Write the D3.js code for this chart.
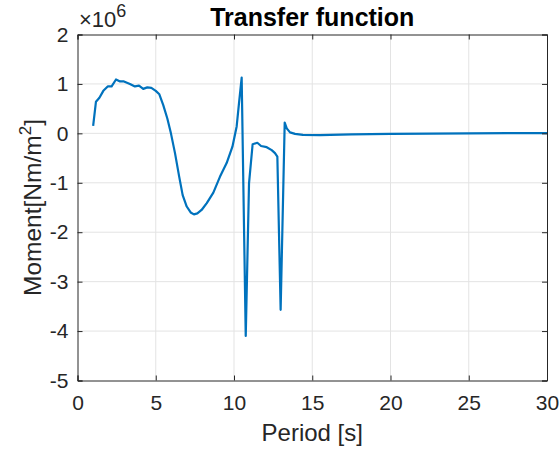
<!DOCTYPE html>
<html>
<head>
<meta charset="utf-8">
<script src="https://cdn.jsdelivr.net/npm/d3@7"></script>
<style>
  html, body { margin: 0; padding: 0; background: #fff; }
  svg { display: block; }
  text { font-family: "Liberation Sans", Arial, Helvetica, sans-serif; fill: #262626; }
</style>
</head>
<body>
<svg id="chart" width="560" height="452"></svg>
<script>
// Transfer function: moment per unit area vs. wave period
const period = [1.0, 1.18, 1.4, 1.65, 1.93, 2.18, 2.46, 2.72, 2.97, 3.35, 3.67, 3.93, 4.2, 4.46, 4.72, 5.0, 5.23, 5.48, 5.74, 5.97, 6.23, 6.5, 6.72, 6.98, 7.23, 7.44, 7.66, 7.93, 8.26, 8.68, 9.1, 9.53, 9.9, 10.17, 10.32, 10.49, 10.75, 10.96, 11.19, 11.49, 11.73, 12.09, 12.41, 12.62, 12.77, 12.98, 13.24, 13.37, 13.58, 13.9, 14.4, 15.5, 17.5, 20, 22.5, 25, 27.5, 30];
const moment = [0.15, 0.64, 0.72, 0.86, 0.95, 0.95, 1.09, 1.05, 1.05, 1.0, 0.95, 0.965, 0.9, 0.93, 0.92, 0.86, 0.79, 0.57, 0.30, 0.0, -0.40, -0.88, -1.25, -1.48, -1.60, -1.64, -1.62, -1.55, -1.41, -1.20, -0.88, -0.60, -0.27, 0.14, 0.61, 1.13, -4.10, -1.01, -0.22, -0.19, -0.255, -0.28, -0.34, -0.40, -0.47, -3.57, 0.22, 0.10, 0.02, -0.01, -0.03, -0.035, -0.02, -0.01, -0.005, 0.0, 0.003, 0.005];
const xTicks = [0, 5, 10, 15, 20, 25, 30];
const yTicks = [-5, -4, -3, -2, -1, 0, 1, 2];

const svg = d3.select("#chart");
const m = { left: 77.5, right: 547, top: 34.5, bottom: 380.5 };

const x = d3.scaleLinear().domain([0, 30]).range([m.left, m.right]);
const y = d3.scaleLinear().domain([-5, 2]).range([m.bottom, m.top]);

// grid
const grid = svg.append("g");
grid.selectAll("line.gx").data(xTicks.slice(1, -1)).join("line")
  .attr("x1", d => x(d)).attr("x2", d => x(d))
  .attr("y1", m.top).attr("y2", m.bottom)
  .attr("stroke", "#e3e3e3").attr("stroke-width", 1);
grid.selectAll("line.gy").data(yTicks.slice(1, -1)).join("line")
  .attr("y1", d => y(d)).attr("y2", d => y(d))
  .attr("x1", m.left).attr("x2", m.right)
  .attr("stroke", "#e3e3e3").attr("stroke-width", 1);

// curve
const line = d3.line().x((d, i) => x(period[i])).y(d => y(d));
svg.append("path").datum(moment)
  .attr("d", line)
  .attr("fill", "none")
  .attr("stroke", "#0072BD")
  .attr("stroke-width", 2.2)
  .attr("stroke-linejoin", "round");

// axes with inward ticks; plain hyphen for negatives
const fs = 21;
const fmt = d => String(d);
const xAxis = d3.axisBottom(x).tickValues(xTicks).tickSize(-5).tickPadding(15).tickFormat(fmt);
const gx = svg.append("g").attr("transform", `translate(0,${m.bottom})`).call(xAxis);
const xAxisTop = d3.axisTop(x).tickValues(xTicks).tickSize(-5).tickFormat("");
const gxt = svg.append("g").attr("transform", `translate(0,${m.top})`).call(xAxisTop);
const yAxis = d3.axisLeft(y).tickValues(yTicks).tickSize(-5).tickPadding(9).tickFormat(fmt);
const gy = svg.append("g").attr("transform", `translate(${m.left},0)`).call(yAxis);
const yAxisR = d3.axisRight(y).tickValues(yTicks).tickSize(-5).tickFormat("");
const gyr = svg.append("g").attr("transform", `translate(${m.right},0)`).call(yAxisR);

[gx, gxt, gy, gyr].forEach(g => {
  g.select(".domain").attr("stroke", "#262626").attr("stroke-width", 1);
  g.selectAll(".tick line").attr("stroke", "#262626");
  g.selectAll("text").attr("font-size", fs).attr("font-family", null).style("fill", "#262626");
});
gx.selectAll(".tick text").attr("dy", "0.71em");

// exponent label
const ex = svg.append("text").attr("x", 79).attr("y", 27).attr("font-size", 22);
ex.append("tspan").text("\u00d710");
ex.append("tspan").attr("dy", -10).attr("font-size", 18).text("6");

// title
svg.append("text").attr("x", (m.left + m.right) / 2).attr("y", 26)
  .attr("text-anchor", "middle").attr("font-weight", "bold").attr("font-size", 25)
  .style("fill", "#000").text("Transfer function");

// x label
svg.append("text").attr("x", (m.left + m.right) / 2).attr("y", 441)
  .attr("text-anchor", "middle").attr("font-size", 24).text("Period [s]");

// y label
const yl = svg.append("text")
  .attr("transform", `translate(41,${(m.top + m.bottom) / 2}) rotate(-90)`)
  .attr("text-anchor", "middle").attr("font-size", 24.5);
yl.append("tspan").text("Moment[Nm/m");
yl.append("tspan").attr("dy", -10).attr("font-size", 17).text("2");
yl.append("tspan").attr("dy", 10).text("]");
</script>
</body>
</html>
